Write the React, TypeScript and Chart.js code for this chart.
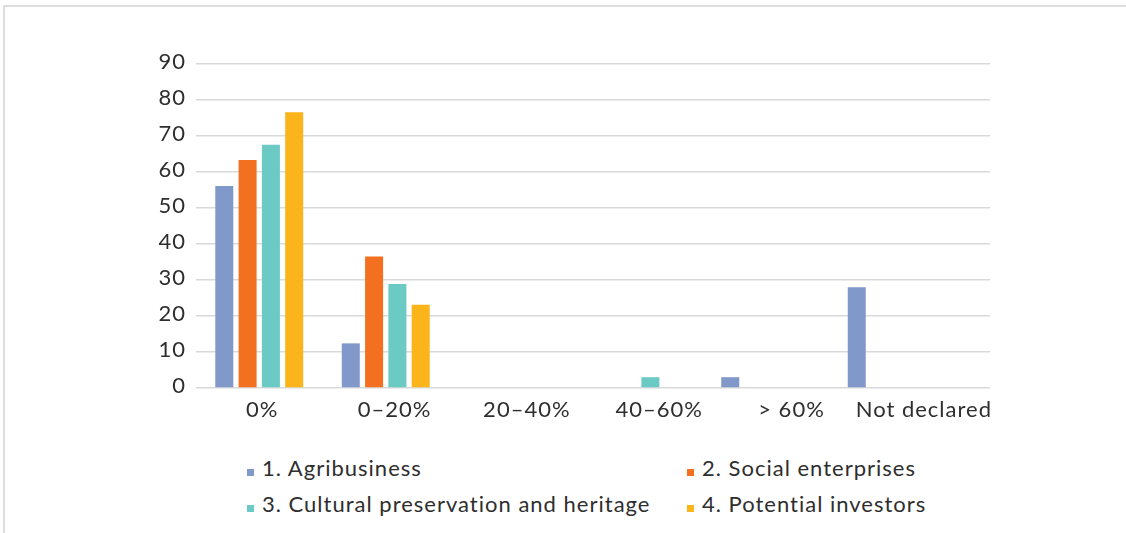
import React, { useEffect, useRef } from "react";
import { Chart, registerables } from "chart.js";

Chart.register(...registerables);

const categories = ["0%", "0–20%", "20–40%", "40–60%", "> 60%", "Not declared"];
const seriesNames = [
  "1. Agribusiness",
  "2. Social enterprises",
  "3. Cultural preservation and heritage",
  "4. Potential investors",
];
const agribusiness = [56.1, 12.4, 0, 0, 3, 28];
const socialEnterprises = [63.3, 36.5, 0, 0, 0, 0];
const culturalHeritage = [67.6, 28.9, 0, 3, 0, 0];
const potentialInvestors = [76.6, 23.1, 0, 0, 0, 0];
const seriesColors = ["#8099CA", "#F37021", "#6CCAC4", "#FBB41A"];
const yTicks = [0, 10, 20, 30, 40, 50, 60, 70, 80, 90];

const seriesValues = [agribusiness, socialEnterprises, culturalHeritage, potentialInvestors];
const FONT = "Lato, 'Noto Sans', sans-serif";
const TEXT = "#2e2e2e";
const SPACING = "1px";

const spacingPlugin = {
  id: "letterSpacing",
  beforeUpdate(chart: any) {
    chart.ctx.letterSpacing = SPACING;
  },
  beforeDraw(chart: any) {
    chart.ctx.letterSpacing = SPACING;
  },
};

export default function App() {
  const canvasRef = useRef<HTMLCanvasElement | null>(null);

  useEffect(() => {
    if (!canvasRef.current) return;
    const chart = new Chart(canvasRef.current, {
      type: "bar",
      plugins: [spacingPlugin],
      data: {
        labels: categories,
        datasets: seriesValues.map((vals, i) => ({
          label: seriesNames[i],
          data: vals.map((v, k) => ({ x: k, y: v })),
          backgroundColor: seriesColors[i],
          borderWidth: 0,
          categoryPercentage: 0.737,
          barPercentage: 0.773,
          xAxisID: "x",
        })),
      },
      options: {
        animation: false,
        responsive: false,
        devicePixelRatio: 1,
        layout: { padding: { left: 0, top: 64, right: 136, bottom: 0 } },
        plugins: { legend: { display: false }, tooltip: { enabled: false } },
        scales: {
          x: {
            type: "linear",
            display: false,
            offset: false,
            min: -0.5,
            max: 5.777,
            afterBuildTicks: (scale: any) => {
              scale.ticks = categories.map((_, k) => ({ value: k }));
            },
          },
          x2: {
            type: "category",
            position: "bottom",
            labels: categories,
            offset: true,
            grid: { display: false, drawTicks: false },
            border: { display: false },
            ticks: {
              color: TEXT,
              font: { family: FONT, size: 22 },
              padding: 9,
              maxRotation: 0,
              autoSkip: false,
            },
            afterFit: (scale: any) => {
              scale.height = 52;
            },
          },
          y: {
            min: 0,
            max: 90,
            afterBuildTicks: (scale: any) => {
              scale.ticks = yTicks.map((v) => ({ value: v }));
            },
            grid: { color: "#d9d9d9", lineWidth: 1.5, drawTicks: false },
            border: { display: false },
            ticks: {
              color: TEXT,
              font: { family: FONT, size: 22 },
              padding: 10,
              labelOffset: -2,
            },
            afterFit: (scale: any) => {
              scale.width = 196;
            },
          },
        },
      },
    });
    return () => chart.destroy();
  }, []);

  return (
    <div
      style={{
        position: "absolute",
        left: 0,
        top: 0,
        width: 1126,
        height: 533,
        overflow: "hidden",
        background: "#ffffff",
        fontFamily: FONT,
      }}
    >
      <div
        style={{
          position: "absolute",
          left: 3,
          top: 5,
          width: 1140,
          height: 550,
          border: "2px solid #dedede",
          boxSizing: "border-box",
        }}
      />
      <canvas
        ref={canvasRef}
        width={1126}
        height={440}
        style={{ position: "absolute", left: 0, top: 0, width: 1126, height: 440 }}
      />
      {seriesNames.map((name, i) => {
        const col = i % 2;
        const row = Math.floor(i / 2);
        const left = col === 0 ? 247 : 687;
        const top = row === 0 ? 455 : 491;
        return (
          <div
            key={name}
            style={{
              position: "absolute",
              left,
              top,
              fontSize: 22,
              lineHeight: 1.2,
              letterSpacing: SPACING,
              color: TEXT,
              whiteSpace: "nowrap",
              display: "flex",
              alignItems: "baseline",
            }}
          >
            <span
              style={{
                display: "inline-block",
                width: 7,
                height: 7,
                background: seriesColors[i],
                marginRight: 8,
              }}
            />
            <span>{name}</span>
          </div>
        );
      })}
    </div>
  );
}
